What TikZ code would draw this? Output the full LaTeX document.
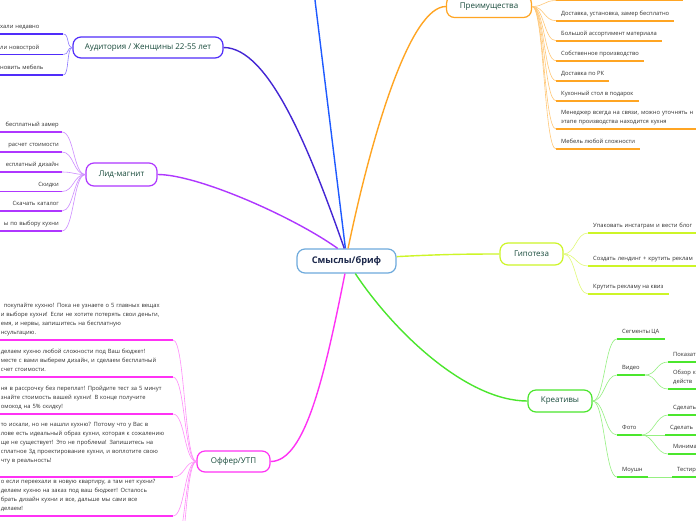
\documentclass[tikz,border=0pt]{standalone}
\usepackage{fontspec}
\setmainfont{Open Sans}
\usetikzlibrary{positioning}
\definecolor{cenC}{RGB}{110,170,220}
\definecolor{cenT}{RGB}{28,40,75}
\definecolor{nodeT}{RGB}{25,75,60}
\definecolor{leafT}{RGB}{50,50,50}
\definecolor{topC}{RGB}{30,90,255}
\definecolor{audC}{RGB}{80,45,250}
\definecolor{audL}{RGB}{140,120,255}
\definecolor{lidC}{RGB}{175,55,255}
\definecolor{lidL}{RGB}{205,140,255}
\definecolor{advC}{RGB}{255,165,35}
\definecolor{advL}{RGB}{255,200,120}
\definecolor{hypC}{RGB}{205,245,40}
\definecolor{hypL}{RGB}{225,250,120}
\definecolor{creC}{RGB}{75,230,45}
\definecolor{creL}{RGB}{150,240,130}
\definecolor{offC}{RGB}{255,50,245}
\definecolor{offL}{RGB}{255,140,250}
\begin{document}
\begin{tikzpicture}[x=1pt, y=-1pt,
        topic/.style={draw, line width=1.2pt, rounded corners=8pt, fill=white, inner sep=0pt, text=nodeT, font=\fontsize{8}{9}\selectfont},
        leafbase/.style={text=leafT, font=\fontsize{5.8}{9}\selectfont, inner xsep=5pt, inner ysep=3.6pt},
        leaf/.style={leafbase, text depth=1.6pt},
        para/.style={leafbase, align=left, execute at end node={\rule[-1.6pt]{0pt}{0pt}}},
        ul/.style={line width=1.6pt},
        twig/.style={line width=0.6pt},
        limb/.style={line width=1.4pt}
    ]
    \useasboundingbox (0,0) rectangle (696,520);
    \clip (0,0) rectangle (696,520);
    \fill[white] (0,0) rectangle (696,520);

    % centre and main topics
    \node[topic, draw=cenC, text=cenT, minimum width=99pt, minimum height=24pt, font=\bfseries\fontsize{9.2}{10}\selectfont] (centre) at (346.5,261) {Смыслы/бриф};
    \node[topic, draw=audC, minimum width=150pt, minimum height=21pt] (aud) at (148,47.5) {Аудитория / Женщины 22-55 лет};
    \node[topic, draw=lidC, minimum width=71pt, minimum height=23pt] (lid) at (121.5,174.5) {Лид-магнит};
    \node[topic, draw=advC, minimum width=85pt, minimum height=22pt] (adv) at (489,6.5) {Преимущества};
    \node[topic, draw=hypC, minimum width=63pt, minimum height=22pt] (hyp) at (531.5,254) {Гипотеза};
    \node[topic, draw=creC, minimum width=64pt, minimum height=22pt] (cre) at (560,401) {Креативы};
    \node[topic, draw=offC, minimum width=73pt, minimum height=21pt] (off) at (233.5,461.5) {Оффер/УТП};
    \coordinate (up) at (314.5,-4);

    \draw[limb, topC] (centre.95) -- (up);
    \draw[limb, audC!85!black] (centre.100) .. controls +(-35,-100) and +(45,0) .. (aud.east);
    \draw[limb, lidC] (centre.125) .. controls +(-45,-32) and +(40,0) .. (lid.east);
    \draw[limb, advC] (centre.83) .. controls +(25,-120) and +(-35,0) .. (adv.west);
    \draw[limb, hypC] (centre.5) .. controls +(40,-2) and +(-40,0) .. (hyp.west);
    \draw[limb, creC] (centre.-55) .. controls +(40,60) and +(-60,0) .. (cre.west);
    \draw[limb, offC] (centre.-97) .. controls +(-20,100) and +(35,0) .. (off.east);

    % Аудитория
    \foreach \n/\y/\t in {1/34/хали недавно, 2/54.5/ли новострой, 3/75/новить мебель}{
        \node[leaf, anchor=south west, text width=63pt, inner xsep=0pt, align=left] (u\n) at (0,\y) {\t};
        \draw[ul, audC] (u\n.south west) -- (u\n.south east);
        \draw[twig, audL] (aud.west) .. controls +(-6,0) and +(6,0) .. (u\n.south east);
    }

    % Лид-магнит
    \foreach \n/\y/\t in {1/132/бесплатный замер, 2/152/расчет стоимости, 3/172/есплатный дизайн, 4/191.5/Скидки, 5/211/Скачать каталог, 6/231/ы по выбору кухни}{
        \node[leaf, anchor=south east, text width=62pt, inner xsep=3pt, align=right] (l\n) at (62,\y) {\t};
        \draw[ul, lidC] (l\n.south west) -- (l\n.south east);
        \draw[twig, lidL] (lid.west) .. controls +(-12,0) and +(12,0) .. (l\n.south east);
    }

    % Преимущества
    \coordinate (a0) at (556,0.5);
    \coordinate (a0e) at (683,0.5);
    \draw[ul, advC] (a0) -- (a0e);
    \draw[twig, advL] (adv.east) .. controls +(12,0) and +(-12,0) .. (a0);
    \foreach \n/\y/\t in {1/20.7/{Доставка, установка, замер бесплатно}, 2/40.7/Большой ассортимент материала, 3/60.7/Собственное производство, 4/80.7/Доставка по РК, 5/100.7/Кухонный стол в подарок, 7/149/Мебель любой сложности}{
        \node[leaf, anchor=south west] (a\n) at (556,\y) {\t};
        \draw[ul, advC] (a\n.south west) -- (a\n.south east);
        \draw[twig, advL] (adv.east) .. controls +(12,0) and +(-12,0) .. (a\n.south west);
    }
    \node[para, anchor=south west, text width=150pt] (a6) at (556,129) {Менеджер всегда на связи, можно уточнять н\\этапе производства находится кухня};
    \draw[ul, advC] (a6.south west) -- (a6.south east);
    \draw[twig, advL] (adv.east) .. controls +(12,0) and +(-12,0) .. (a6.south west);

    % Гипотеза
    \node[leaf, anchor=south west, text width=120pt, align=left] (h1) at (588,233) {Упаковать инстаграм и вести блог};
    \node[leaf, anchor=south west, text width=120pt, align=left] (h2) at (588,266) {Создать лендинг + крутить реклам};
    \node[leaf, anchor=south west] (h3) at (588,294) {Крутить рекламу на квиз};
    \foreach \n in {1,2,3}{
        \draw[ul, hypC] (h\n.south west) -- (h\n.south east);
        \draw[twig, hypL] (hyp.east) .. controls +(12,0) and +(-12,0) .. (h\n.south west);
    }

    % Креативы
    \foreach \n/\y/\t in {1/339/Сегменты ЦА, 2/375/Видео, 3/435/Фото, 4/477/Моушн}{
        \node[leaf, anchor=south west] (c\n) at (617,\y) {\t};
        \draw[ul, creC] (c\n.south west) -- (c\n.south east);
        \draw[twig, creL] (cre.east) .. controls +(12,0) and +(-12,0) .. (c\n.south west);
    }
    \node[leaf, anchor=south west, text width=40pt, align=left] (v1) at (668,362) {Показат};
    \node[para, anchor=south west, text width=40pt] (v2) at (668,389) {Обзор к\\действ};
    \node[leaf, anchor=south west, text width=40pt, align=left] (f1) at (668,415) {Сделать};
    \node[leaf, anchor=south west, text width=40pt, align=left] (f2) at (665,435) {Сделать};
    \node[leaf, anchor=south west, text width=40pt, align=left] (f3) at (668,454) {Минимал};
    \node[leaf, anchor=south west, text width=40pt, align=left] (m1) at (672,477) {Тестир};
    \foreach \p/\k in {c2/v1, c2/v2, c3/f1, c3/f2, c3/f3, c4/m1}{
        \draw[ul, creC] (\k.south west) -- (\k.south east);
        \draw[twig, creL] (\p.south east) .. controls +(12,0) and +(-12,0) .. (\k.south west);
    }

    % Оффер/УТП
    \foreach \n/\y/\t in {
        1/340/{\hspace*{3pt}покупайте кухню! Пока не узнаете о 5 главных  вещах\\и выборе кухни! Если не хотите потерять свои деньги,\\емя, и нервы, запишитесь на бесплатную\\нсультацию.},
        2/377/{делаем  кухню любой сложности под Ваш  бюджет!\\месте с вами выберем дизайн, и сделаем бесплатный\\счет стоимости.},
        3/414/{ня в рассрочку без переплат! Пройдите тест за 5 минут\\знайте стоимость вашей кухни! В конце получите\\омокод на 5\% скидку!},
        4/477/{то  искали, но не нашли кухню? Потому что у Вас в\\лове есть идеальный образ кухни, которая к сожалению\\ще не существует! Это не проблема! Запишитесь на\\сплатное 3д проектирование кухни, и воплотите свою\\чту в реальность!\\~},
        5/516/{о если переехали в новую квартиру, а там нет кухни?\\делаем кухню на заказ под ваш бюджет! Осталось\\брать дизайн кухни и все, дальше мы сами все\\делаем!}}{
        \node[para, anchor=south east, text width=171pt, inner xsep=1pt] (o\n) at (173,\y) {\t};
        \draw[ul, offC] (o\n.south west) -- (o\n.south east);
        \draw[twig, offL] (off.west) .. controls +(-12,0) and +(12,0) .. (o\n.south east);
    }
    \coordinate (o6) at (173,552);
    \coordinate (o7) at (173,588);
    \foreach \n in {6,7}{
        \draw[twig, offL] (off.west) .. controls +(-12,0) and +(12,0) .. (o\n);
    }
\end{tikzpicture}
\end{document}
